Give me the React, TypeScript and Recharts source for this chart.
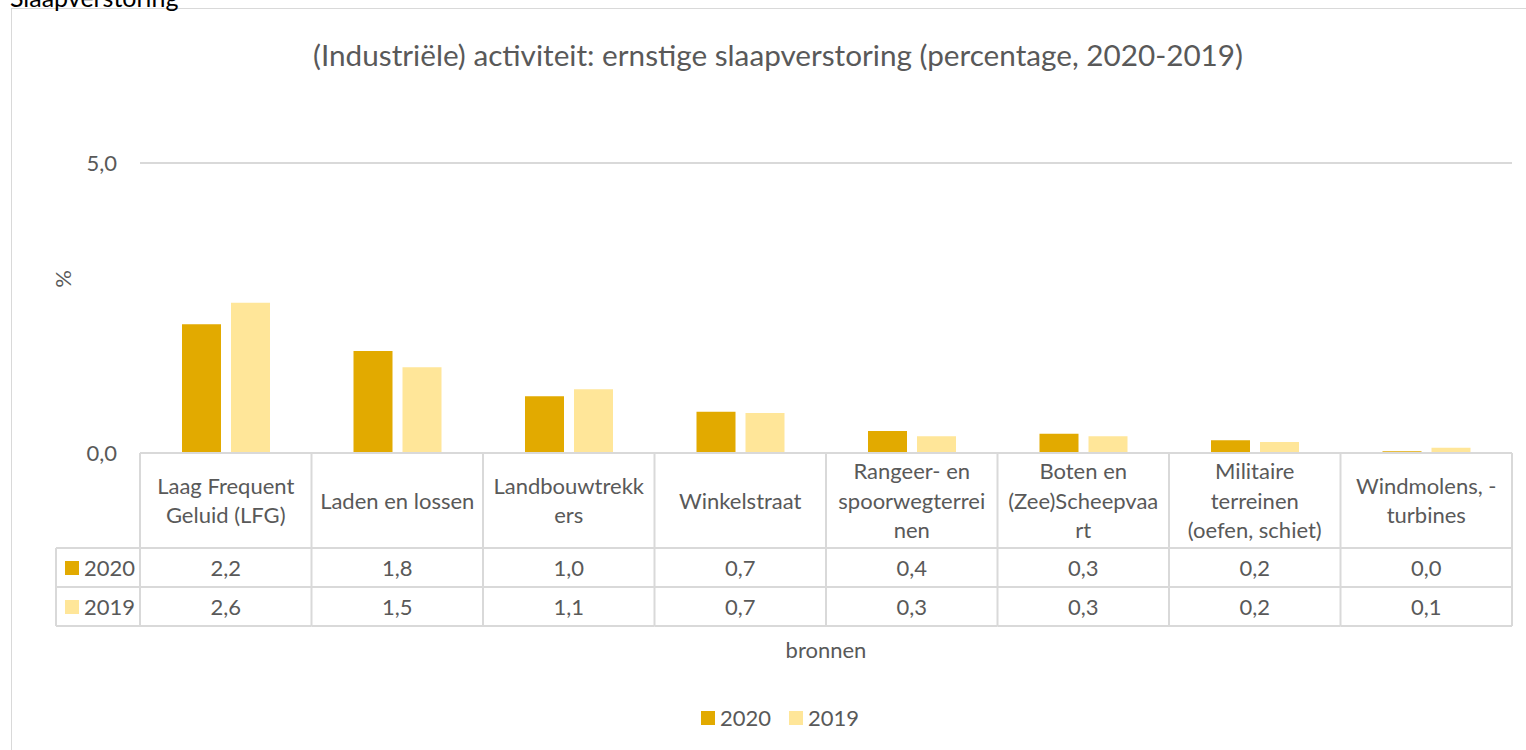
import React from "react";
import { BarChart, Bar, XAxis, YAxis, CartesianGrid, Legend, Label } from "recharts";

const categories = [
  "Laag Frequent Geluid (LFG)",
  "Laden en lossen",
  "Landbouwtrekkers",
  "Winkelstraat",
  "Rangeer- en spoorwegterreinen",
  "Boten en (Zee)Scheepvaart",
  "Militaire terreinen (oefen, schiet)",
  "Windmolens, -turbines",
];
const categoryLines = [
  ["Laag Frequent", "Geluid (LFG)"],
  ["Laden en lossen"],
  ["Landbouwtrekk", "ers"],
  ["Winkelstraat"],
  ["Rangeer- en", "spoorwegterrei", "nen"],
  ["Boten en", "(Zee)Scheepvaa", "rt"],
  ["Militaire", "terreinen", "(oefen, schiet)"],
  ["Windmolens, -", "turbines"],
];
const values2020 = [2.22, 1.76, 0.98, 0.71, 0.38, 0.33, 0.22, 0.03];
const values2019 = [2.59, 1.48, 1.1, 0.69, 0.29, 0.29, 0.19, 0.09];
const seriesNames = ["2020", "2019"];
const seriesColors = ["#E2AA00", "#FFE699"];
const yTicks = [0, 5];

const data = categories.map((c, i) => ({ name: c, v2020: values2020[i], v2019: values2019[i] }));
const seriesValues = [values2020, values2019];

const W = 1526;
const H = 750;
const LEFT = 140;
const RIGHT = 14;
const BAND = (W - LEFT - RIGHT) / categories.length;
const FONT = "Lato, 'Noto Sans', sans-serif";
const GREY = "#595959";
const LINE = "#d9d9d9";
const HEADER_H = 95;
const ROW_H = 39;

const fmt = (v: number) => v.toFixed(1).replace(".", ",");

const TableTick = (props: any) => {
  const { x, y, payload } = props;
  const idx = payload.index;
  const lines = categoryLines[idx];
  const left = x - BAND / 2;
  const right = x + BAND / 2;
  const bottom = y + HEADER_H + ROW_H * 2;
  const lh = 29.5;
  const centerY = y + 47;
  return (
    <g>
      <line x1={left} x2={left} y1={y} y2={bottom} stroke={LINE} strokeWidth={2} />
      {idx === categories.length - 1 && (
        <line x1={right} x2={right} y1={y} y2={bottom} stroke={LINE} strokeWidth={2} />
      )}
      {[HEADER_H, HEADER_H + ROW_H, HEADER_H + ROW_H * 2].map((dy) => (
        <line key={dy} x1={left} x2={right} y1={y + dy} y2={y + dy} stroke={LINE} strokeWidth={2} />
      ))}
      {lines.map((ln, i) => (
        <text
          key={i}
          x={x}
          y={centerY + (i - (lines.length - 1) / 2) * lh}
          textAnchor="middle"
          dominantBaseline="central"
          fill={GREY}
          fontSize={22}
          fontFamily={FONT}
        >
          {ln}
        </text>
      ))}
      {seriesValues.map((vals, r) => (
        <text
          key={r}
          x={x}
          y={y + HEADER_H + ROW_H * r + ROW_H / 2}
          textAnchor="middle"
          dominantBaseline="central"
          fill={GREY}
          fontSize={22}
          fontFamily={FONT}
        >
          {fmt(vals[idx])}
        </text>
      ))}
      {idx === 0 && (
        <g>
          <line x1={56} x2={56} y1={y + HEADER_H} y2={bottom} stroke={LINE} strokeWidth={2} />
          {[HEADER_H, HEADER_H + ROW_H, HEADER_H + ROW_H * 2].map((dy) => (
            <line key={dy} x1={56} x2={left} y1={y + dy} y2={y + dy} stroke={LINE} strokeWidth={2} />
          ))}
          {seriesNames.map((s, r) => (
            <g key={s}>
              <rect x={65} y={y + HEADER_H + ROW_H * r + 13} width={14} height={14} fill={seriesColors[r]} />
              <text
                x={84}
                y={y + HEADER_H + ROW_H * r + ROW_H / 2}
                dominantBaseline="central"
                fill={GREY}
                fontSize={22}
                fontFamily={FONT}
              >
                {s}
              </text>
            </g>
          ))}
        </g>
      )}
    </g>
  );
};

const LegendContent = (props: any) => {
  const payload = [...(props.payload || [])].sort(
    (a: any, b: any) => seriesNames.indexOf(a.value) - seriesNames.indexOf(b.value)
  );
  return (
    <div style={{ display: "flex", justifyContent: "center", alignItems: "center", fontFamily: FONT, fontSize: 22, color: GREY }}>
      {payload.map((p: any, i: number) => (
        <div key={i} style={{ display: "flex", alignItems: "center", marginRight: i < payload.length - 1 ? 18 : 0 }}>
          <span style={{ display: "inline-block", width: 14, height: 14, background: p.color, marginRight: 5 }} />
          <span>{p.value}</span>
        </div>
      ))}
    </div>
  );
};

export default function App() {
  return (
    <div style={{ position: "absolute", left: 0, top: 0, width: W, height: H, overflow: "hidden", background: "#fff", fontFamily: FONT }}>
      <div style={{ position: "absolute", left: 11, top: 8, width: W, height: H, border: `1px solid ${LINE}`, boxSizing: "border-box" }} />
      <div style={{ position: "absolute", left: 10, top: -15, fontSize: 25, lineHeight: "25px", color: "#000", fontFamily: FONT }}>
        Slaapverstoring
      </div>
      <div style={{ position: "absolute", left: 0, width: 1556, top: 37, textAlign: "center", fontSize: 29.7, lineHeight: "36px", color: GREY, fontFamily: FONT }}>
        (Industriële) activiteit: ernstige slaapverstoring (percentage, 2020-2019)
      </div>
      <div style={{ position: "absolute", left: 0, top: 0 }}>
        <BarChart
          width={W}
          height={H}
          data={data}
          margin={{ top: 163, right: RIGHT, bottom: 87, left: 0 }}
          barSize={39}
          barGap={10}
        >
          <CartesianGrid horizontal vertical={false} stroke={LINE} strokeWidth={2} />
          <YAxis
            width={LEFT}
            domain={[0, 5]}
            ticks={yTicks}
            tickFormatter={fmt}
            axisLine={false}
            tickLine={false}
            tickSize={0}
            tickMargin={23}
            tick={{ fill: GREY, fontSize: 22, fontFamily: FONT }}
          >
            <Label
              content={() => (
                <text
                  x={62}
                  y={279}
                  transform="rotate(-90 62 279)"
                  textAnchor="middle"
                  dominantBaseline="central"
                  fill={GREY}
                  fontSize={22}
                  fontFamily={FONT}
                >
                  %
                </text>
              )}
            />
          </YAxis>
          <XAxis
            dataKey="name"
            height={210}
            interval={0}
            axisLine={{ stroke: LINE, strokeWidth: 2 }}
            tickLine={false}
            tickSize={0}
            tickMargin={0}
            tick={<TableTick />}
          >
            <Label value="bronnen" position="insideBottom" offset={5} fill={GREY} fontSize={22} fontFamily={FONT} />
          </XAxis>
          <Legend
            verticalAlign="middle"
            layout="horizontal"
            content={<LegendContent />}
            wrapperStyle={{ position: "absolute", top: 704, left: 0, width: 1560 }}
          />
          <Bar dataKey="v2020" name={seriesNames[0]} fill={seriesColors[0]} isAnimationActive={false} />
          <Bar dataKey="v2019" name={seriesNames[1]} fill={seriesColors[1]} isAnimationActive={false} />
        </BarChart>
      </div>
    </div>
  );
}
